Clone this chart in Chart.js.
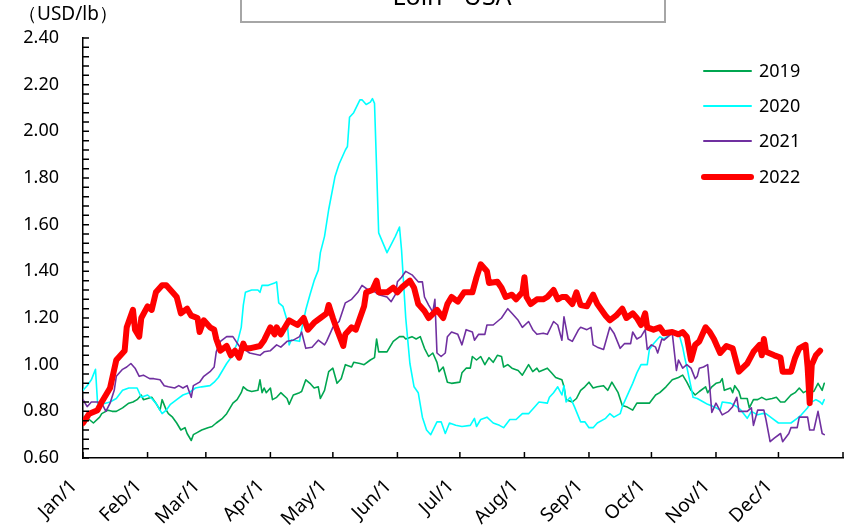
<!DOCTYPE html>
<html>
<head>
<meta charset="utf-8">
<script src="https://cdn.jsdelivr.net/npm/chart.js@4.4.1/dist/chart.umd.min.js"></script>
<style>
  html, body { margin: 0; padding: 0; background: #fff; }
</style>
</head>
<body>
<canvas id="loin-chart" width="846" height="526"></canvas>
<script>
// Day-of-year positions where each month starts, and their labels
const monthDays = [0, 31, 59, 90, 120, 151, 181, 212, 243, 273, 304, 334, 365];
const monthLabels = ['Jan/1', 'Feb/1', 'Mar/1', 'Apr/1', 'May/1', 'Jun/1', 'Jul/1',
                     'Aug/1', 'Sep/1', 'Oct/1', 'Nov/1', 'Dec/1', ''];

const seasonYears = ['2019', '2020', '2021', '2022'];

// 2019
const days2019 = [0,3,5,8,9,12,14,16,19,22,24,26,28,29,31,33,35,37,38,40,41,43,45,47,49,50,52,53,55,57,60,62,64,67,69,72,74,76,77,79,81,84,85,86,87,88,90,91,93,95,98,99,101,104,105,107,109,111,113,114,116,118,120,122,124,126,129,130,133,135,138,140,141,142,146,149,152,154,155,158,160,162,164,166,168,170,171,173,175,177,181,182,184,186,187,189,191,193,195,197,199,201,202,204,206,209,211,213,214,216,218,219,223,225,227,230,231,232,235,237,239,241,243,245,247,250,252,254,257,259,261,264,266,269,272,275,277,280,283,286,288,290,292,294,296,299,300,302,304,306,307,308,311,312,313,315,316,319,320,322,324,326,328,331,333,335,337,340,342,344,346,348,351,353,355,356];
const price2019 = [0.775,0.765,0.75,0.775,0.79,0.805,0.80,0.80,0.815,0.835,0.84,0.85,0.87,0.85,0.855,0.86,0.835,0.805,0.85,0.805,0.79,0.775,0.75,0.72,0.73,0.705,0.675,0.70,0.71,0.72,0.73,0.735,0.75,0.77,0.79,0.835,0.85,0.88,0.905,0.89,0.885,0.89,0.935,0.88,0.90,0.88,0.90,0.85,0.86,0.88,0.855,0.83,0.87,0.88,0.885,0.935,0.92,0.90,0.905,0.855,0.89,0.97,0.985,0.92,0.94,1.00,0.99,1.01,1.005,1.00,1.02,1.03,1.11,1.055,1.055,1.10,1.12,1.12,1.11,1.12,1.11,1.12,1.07,1.035,1.05,1.01,0.97,0.99,0.925,0.92,0.925,0.965,0.985,0.985,1.035,1.02,1.035,1.00,1.03,1.01,1.04,1.035,0.99,1.00,0.985,0.975,0.955,0.985,1.00,0.97,0.985,0.97,0.985,0.965,0.945,0.935,0.905,0.85,0.84,0.855,0.89,0.905,0.925,0.90,0.905,0.91,0.89,0.925,0.88,0.825,0.82,0.805,0.835,0.835,0.835,0.87,0.88,0.905,0.935,0.945,0.955,0.925,0.89,0.87,0.885,0.905,0.88,0.905,0.92,0.925,0.94,0.89,0.90,0.88,0.91,0.885,0.855,0.855,0.815,0.85,0.85,0.86,0.85,0.855,0.86,0.84,0.84,0.87,0.88,0.90,0.88,0.89,0.885,0.92,0.89,0.92];

// 2020
const days2020 = [0,2,4,6,7,9,13,16,19,22,26,28,31,33,35,38,40,42,45,48,51,54,57,61,63,65,69,71,74,76,77,78,81,84,85,86,89,92,93,94,96,98,99,100,101,104,105,107,109,111,113,114,116,118,121,123,126,127,128,130,133,134,136,138,139,140,142,146,150,152,153,155,157,159,161,163,165,167,170,172,174,176,179,182,186,188,189,191,194,197,200,202,205,208,211,214,217,219,223,224,226,228,230,231,232,234,236,239,241,243,245,247,251,253,255,258,259,262,264,266,268,271,272,274,276,277,279,282,283,286,288,289,290,292,293,295,298,300,303,306,307,311,314,316,319,321,324,326,328,331,334,337,340,343,345,348,349,352,354,355,356];
const price2020 = [0.89,0.91,0.935,0.98,0.835,0.83,0.84,0.855,0.89,0.90,0.90,0.86,0.87,0.855,0.835,0.79,0.805,0.83,0.85,0.87,0.88,0.90,0.905,0.91,0.925,0.945,1.005,1.03,1.09,1.16,1.255,1.31,1.32,1.32,1.31,1.34,1.34,1.35,1.355,1.265,1.25,1.19,1.085,1.105,1.105,1.10,1.15,1.235,1.30,1.36,1.405,1.48,1.55,1.665,1.805,1.86,1.92,1.935,2.06,2.08,2.135,2.135,2.115,2.125,2.14,2.12,1.565,1.48,1.55,1.59,1.49,1.20,1.005,0.905,0.88,0.775,0.72,0.70,0.755,0.755,0.705,0.75,0.74,0.735,0.74,0.77,0.735,0.765,0.775,0.75,0.74,0.73,0.765,0.765,0.79,0.79,0.82,0.84,0.835,0.86,0.88,0.905,0.87,0.91,0.84,0.86,0.82,0.755,0.755,0.73,0.73,0.75,0.77,0.79,0.775,0.79,0.82,0.88,0.92,0.965,1.00,1.00,1.065,1.09,1.11,1.12,1.11,1.13,1.135,1.14,1.075,1.03,0.99,0.905,0.86,0.855,0.84,0.83,0.82,0.805,0.84,0.835,0.82,0.805,0.77,0.80,0.785,0.79,0.79,0.77,0.75,0.75,0.75,0.77,0.785,0.815,0.835,0.85,0.84,0.83,0.85];

// 2021
const days2021 = [0,2,4,7,9,11,13,15,16,19,21,23,25,27,29,32,34,37,39,41,44,46,48,50,52,53,56,58,61,63,64,66,69,72,75,77,80,85,87,90,93,95,98,101,104,105,107,110,113,116,117,120,123,126,129,132,134,137,139,142,146,148,150,151,153,155,158,161,163,164,166,168,169,170,172,174,175,177,180,182,184,187,188,190,193,194,197,199,201,204,206,209,211,214,216,218,221,223,226,228,230,231,233,235,238,239,242,244,245,247,250,253,255,258,260,263,264,266,268,270,271,273,275,276,278,279,281,283,285,286,288,290,292,294,295,296,298,300,301,302,304,307,310,312,314,315,319,321,322,324,327,328,330,332,335,336,339,340,343,344,348,349,351,353,355,356];
const price2021 = [0.85,0.82,0.84,0.84,0.835,0.80,0.835,0.89,0.95,0.98,0.99,1.005,0.985,0.95,0.955,0.94,0.94,0.935,0.91,0.905,0.90,0.91,0.90,0.91,0.86,0.91,0.925,0.95,0.97,0.99,1.055,1.10,1.12,1.12,1.08,1.07,1.05,1.04,1.055,1.06,1.085,1.075,1.10,1.105,1.12,1.14,1.07,1.075,1.105,1.085,1.10,1.16,1.185,1.265,1.28,1.31,1.34,1.32,1.32,1.30,1.29,1.27,1.30,1.355,1.375,1.40,1.385,1.355,1.355,1.29,1.255,1.225,1.28,1.05,1.035,1.05,1.12,1.14,1.13,1.085,1.15,1.14,1.105,1.13,1.13,1.17,1.17,1.185,1.20,1.24,1.22,1.19,1.16,1.185,1.15,1.13,1.135,1.13,1.185,1.17,1.105,1.205,1.11,1.10,1.15,1.16,1.15,1.16,1.085,1.075,1.065,1.16,1.135,1.07,1.09,1.09,1.14,1.11,1.12,1.15,1.065,1.085,1.075,1.05,1.11,1.105,1.12,1.135,0.975,1.02,0.985,1.00,0.985,0.94,0.95,0.985,0.99,1.00,0.905,0.795,0.835,0.785,0.80,0.82,0.86,0.80,0.80,0.815,0.74,0.805,0.805,0.765,0.67,0.685,0.705,0.67,0.705,0.73,0.73,0.775,0.775,0.72,0.72,0.80,0.705,0.70];

// 2022
const days2022 = [0,3,7,9,13,16,20,21,24,25,27,28,31,33,35,38,40,43,45,47,50,52,55,56,58,61,63,64,66,69,71,73,75,77,78,80,85,87,90,92,93,95,99,103,106,108,111,114,117,118,120,122,125,126,129,131,133,135,136,139,141,142,146,149,151,153,157,159,161,164,166,170,173,175,177,180,183,187,189,191,194,195,199,201,203,206,208,211,212,213,215,218,221,223,226,228,230,232,235,237,239,242,245,247,251,253,256,259,261,264,266,268,270,271,274,277,279,283,286,288,290,292,294,296,299,301,303,306,309,312,315,319,322,325,326,327,328,332,335,336,340,342,344,347,348,349,350,352,354];
const price2022 = [0.75,0.79,0.805,0.84,0.90,1.02,1.06,1.16,1.235,1.15,1.12,1.20,1.25,1.235,1.31,1.34,1.34,1.31,1.29,1.22,1.24,1.21,1.20,1.14,1.19,1.16,1.15,1.11,1.06,1.08,1.04,1.06,1.03,1.09,1.07,1.07,1.08,1.105,1.16,1.13,1.16,1.13,1.19,1.17,1.20,1.15,1.18,1.20,1.22,1.256,1.20,1.15,1.08,1.13,1.16,1.15,1.20,1.25,1.31,1.32,1.36,1.31,1.31,1.33,1.31,1.33,1.36,1.33,1.26,1.23,1.20,1.235,1.20,1.26,1.29,1.27,1.31,1.31,1.375,1.43,1.40,1.35,1.355,1.33,1.29,1.30,1.28,1.31,1.375,1.29,1.26,1.28,1.28,1.29,1.32,1.28,1.29,1.29,1.26,1.31,1.255,1.25,1.30,1.26,1.21,1.19,1.21,1.24,1.20,1.22,1.20,1.17,1.22,1.16,1.15,1.16,1.135,1.14,1.13,1.14,1.12,1.02,1.085,1.10,1.16,1.14,1.11,1.05,1.08,1.07,0.97,1.005,1.055,1.085,1.04,1.11,1.055,1.04,1.03,0.97,0.97,1.03,1.07,1.085,0.99,0.835,1.00,1.04,1.06];

const yearColors = ['#00a650', '#00ffff', '#7030a0', '#ff0000'];
const yearWidths = [1.6, 1.6, 1.6, 6];

const toPoints = (days, prices) => days.map((d, i) => ({ x: d, y: prices[i] }));
const seriesPoints = [
    toPoints(days2019, price2019),
    toPoints(days2020, price2020),
    toPoints(days2021, price2021),
    toPoints(days2022, price2022)
];

const FONT = '"Noto Sans", "DejaVu Sans", sans-serif';

// Inward tick marks, the legend, the unit label and the boxed title
const chartDecor = {
    id: 'chartDecor',
    afterDraw(chart) {
        const { ctx, chartArea, scales } = chart;
        const x = scales.x, y = scales.y;
        ctx.save();
        ctx.strokeStyle = '#000';
        ctx.lineWidth = 1.5;
        ctx.beginPath();
        monthDays.forEach(d => {
            const px = x.getPixelForValue(d);
            ctx.moveTo(px, chartArea.bottom);
            ctx.lineTo(px, chartArea.bottom - 6);
        });
        for (let i = 0; i <= 45; i++) {
            const py = y.getPixelForValue(0.6 + i * 0.04);
            ctx.moveTo(chartArea.left, py);
            ctx.lineTo(chartArea.left + 6, py);
        }
        ctx.stroke();

        // legend
        ctx.font = '18px ' + FONT;
        ctx.textBaseline = 'middle';
        ctx.textAlign = 'left';
        const rowY = [71, 106, 141, 177];
        seasonYears.forEach((yr, i) => {
            ctx.beginPath();
            ctx.strokeStyle = yearColors[i];
            ctx.lineWidth = yearWidths[i] === 6 ? 6 : 2;
            ctx.lineCap = 'round';
            ctx.moveTo(704, rowY[i]);
            ctx.lineTo(751, rowY[i]);
            ctx.stroke();
            ctx.fillStyle = '#000';
            ctx.fillText(yr, 759, rowY[i] + 1);
        });

        // unit label
        ctx.font = '19px ' + FONT;
        ctx.fillText('（USD/lb）', 18, 15);

        // title box, running off the top edge
        ctx.fillStyle = '#fff';
        ctx.fillRect(241, -30, 424, 52);
        ctx.strokeStyle = '#a6a6a6';
        ctx.lineWidth = 2;
        ctx.lineCap = 'butt';
        ctx.strokeRect(241, -30, 424, 52);
        ctx.fillStyle = '#000';
        ctx.textAlign = 'center';
        ctx.textBaseline = 'alphabetic';
        ctx.font = '25px ' + FONT;
        ctx.fillText('Loin - USA', 452, 5);
        ctx.restore();
    }
};

new Chart(document.getElementById('loin-chart'), {
    type: 'line',
    data: {
        datasets: seasonYears.map((yr, i) => ({
            label: yr,
            data: seriesPoints[i],
            borderColor: yearColors[i],
            backgroundColor: yearColors[i],
            borderWidth: yearWidths[i],
            borderJoinStyle: 'round',
            borderCapStyle: 'round',
            pointRadius: 0,
            tension: 0,
            order: 3 - i
        }))
    },
    options: {
        responsive: false,
        animation: false,
        devicePixelRatio: 1,
        layout: { padding: { top: 38, right: 3, left: 0, bottom: 0 } },
        plugins: {
            legend: { display: false },
            tooltip: { enabled: false }
        },
        scales: {
            x: {
                type: 'linear',
                min: 0,
                max: 365,
                afterBuildTicks: scale => {
                    scale.ticks = monthDays.map(v => ({ value: v }));
                },
                afterFit: scale => {
                    scale.height = 68;
                    scale.paddingLeft = 0;
                    scale.paddingRight = 0;
                },
                grid: { display: false, drawTicks: false },
                border: { display: true, color: '#000', width: 1.5 },
                ticks: {
                    autoSkip: false,
                    minRotation: 45,
                    maxRotation: 45,
                    padding: 17,
                    labelOffset: -9,
                    color: '#000',
                    font: { family: FONT, size: 19 },
                    callback: (value, index) => monthLabels[index]
                }
            },
            y: {
                min: 0.6,
                max: 2.4,
                afterFit: scale => {
                    scale.width = 83;
                    scale.paddingTop = 0;
                    scale.paddingBottom = 0;
                },
                grid: { display: false, drawTicks: false },
                border: { display: true, color: '#000', width: 1.5 },
                ticks: {
                    stepSize: 0.2,
                    padding: 24,
                    color: '#000',
                    font: { family: FONT, size: 18 },
                    callback: v => v.toFixed(2)
                }
            }
        }
    },
    plugins: [chartDecor]
});
</script>
</body>
</html>
